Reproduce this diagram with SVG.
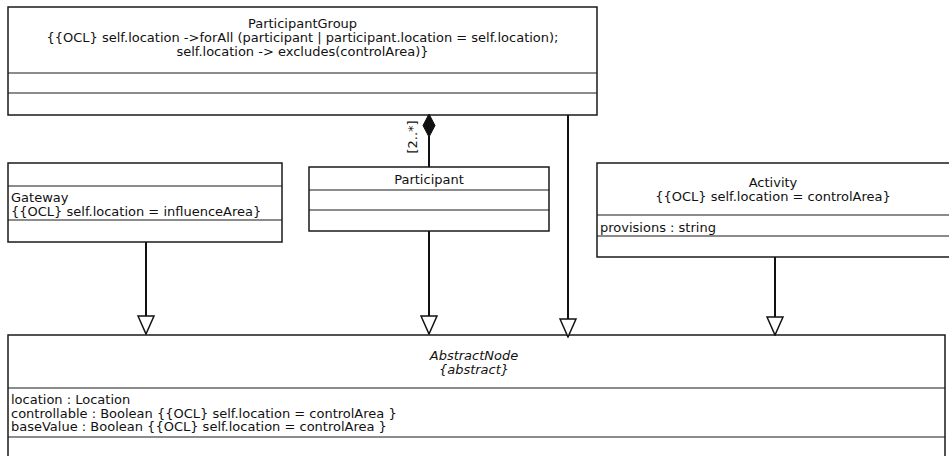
<svg xmlns="http://www.w3.org/2000/svg" width="949" height="456" viewBox="0 0 949 456">
<style>
.box{fill:#fff;stroke:#1a1a1a;stroke-width:1.5}
.sep{stroke:#1a1a1a;stroke-width:1.2}
.t{font-family:"DejaVu Sans",sans-serif;font-size:13px;fill:#111}
.c{text-anchor:middle}
.i{font-style:italic}
.edge{stroke:#111;stroke-width:2;fill:none}
</style>
<defs>
<marker id="gen" viewBox="0 0 20 18" refX="19" refY="9" markerWidth="20" markerHeight="18" markerUnits="userSpaceOnUse" orient="auto">
<path d="M1,1 L19,9 L1,17 Z" fill="#fff" stroke="#111" stroke-width="1.5"/>
</marker>
</defs>
<rect width="949" height="456" fill="#fff"/>

<g id="AbstractNode">
<rect class="box" x="8" y="335" width="937" height="130"/>
<line class="sep" x1="8" y1="388" x2="945" y2="388"/>
<line class="sep" x1="8" y1="437" x2="945" y2="437"/>
<text class="t c i" x="474" y="360">AbstractNode</text>
<text class="t c i" x="474" y="373.5">{abstract}</text>
<text class="t" x="11" y="404">location : Location</text>
<text class="t" x="11" y="417.5">controllable : Boolean {{OCL} self.location = controlArea }</text>
<text class="t" x="11" y="431">baseValue : Boolean {{OCL} self.location = controlArea }</text>
</g>

<g id="ParticipantGroup">
<rect class="box" x="8" y="7" width="589" height="108"/>
<line class="sep" x1="8" y1="73" x2="597" y2="73"/>
<line class="sep" x1="8" y1="93" x2="597" y2="93"/>
<text class="t c" x="302.5" y="28">ParticipantGroup</text>
<text class="t c" x="302.5" y="42">{{OCL} self.location -&gt;forAll (participant | participant.location = self.location);</text>
<text class="t c" x="302.5" y="55.5">self.location -&gt; excludes(controlArea)}</text>
</g>

<g id="Gateway">
<rect class="box" x="8" y="163" width="274" height="79"/>
<line class="sep" x1="8" y1="186" x2="282" y2="186"/>
<line class="sep" x1="8" y1="220" x2="282" y2="220"/>
<text class="t" x="11" y="201.5">Gateway</text>
<text class="t" x="11" y="216">{{OCL} self.location = influenceArea}</text>
</g>

<g id="Participant">
<rect class="box" x="309" y="167" width="240" height="64"/>
<line class="sep" x1="309" y1="190" x2="549" y2="190"/>
<line class="sep" x1="309" y1="210" x2="549" y2="210"/>
<text class="t c" x="429" y="184">Participant</text>
</g>

<g id="Activity">
<rect class="box" x="597" y="163" width="355" height="94"/>
<line class="sep" x1="597" y1="215" x2="949" y2="215"/>
<line class="sep" x1="597" y1="236" x2="949" y2="236"/>
<text class="t c" x="773" y="187">Activity</text>
<text class="t c" x="773" y="200.5">{{OCL} self.location = controlArea}</text>
<text class="t" x="600" y="232">provisions : string</text>
</g>

<g id="connectors">
<line class="edge" x1="429" y1="167" x2="429" y2="136"/>
<polygon points="429,114 435,125.5 429,137 423,125.5" fill="#111" stroke="#111" stroke-width="1"/>
<text class="t c" transform="translate(417,137) rotate(-90)">[2..*]</text>
<line class="edge" x1="146" y1="242" x2="146" y2="334" marker-end="url(#gen)"/>
<line class="edge" x1="429" y1="231" x2="429" y2="334" marker-end="url(#gen)"/>
<line class="edge" x1="568" y1="115" x2="568" y2="337" marker-end="url(#gen)"/>
<line class="edge" x1="775" y1="257" x2="775" y2="335" marker-end="url(#gen)"/>
</g>
</svg>
